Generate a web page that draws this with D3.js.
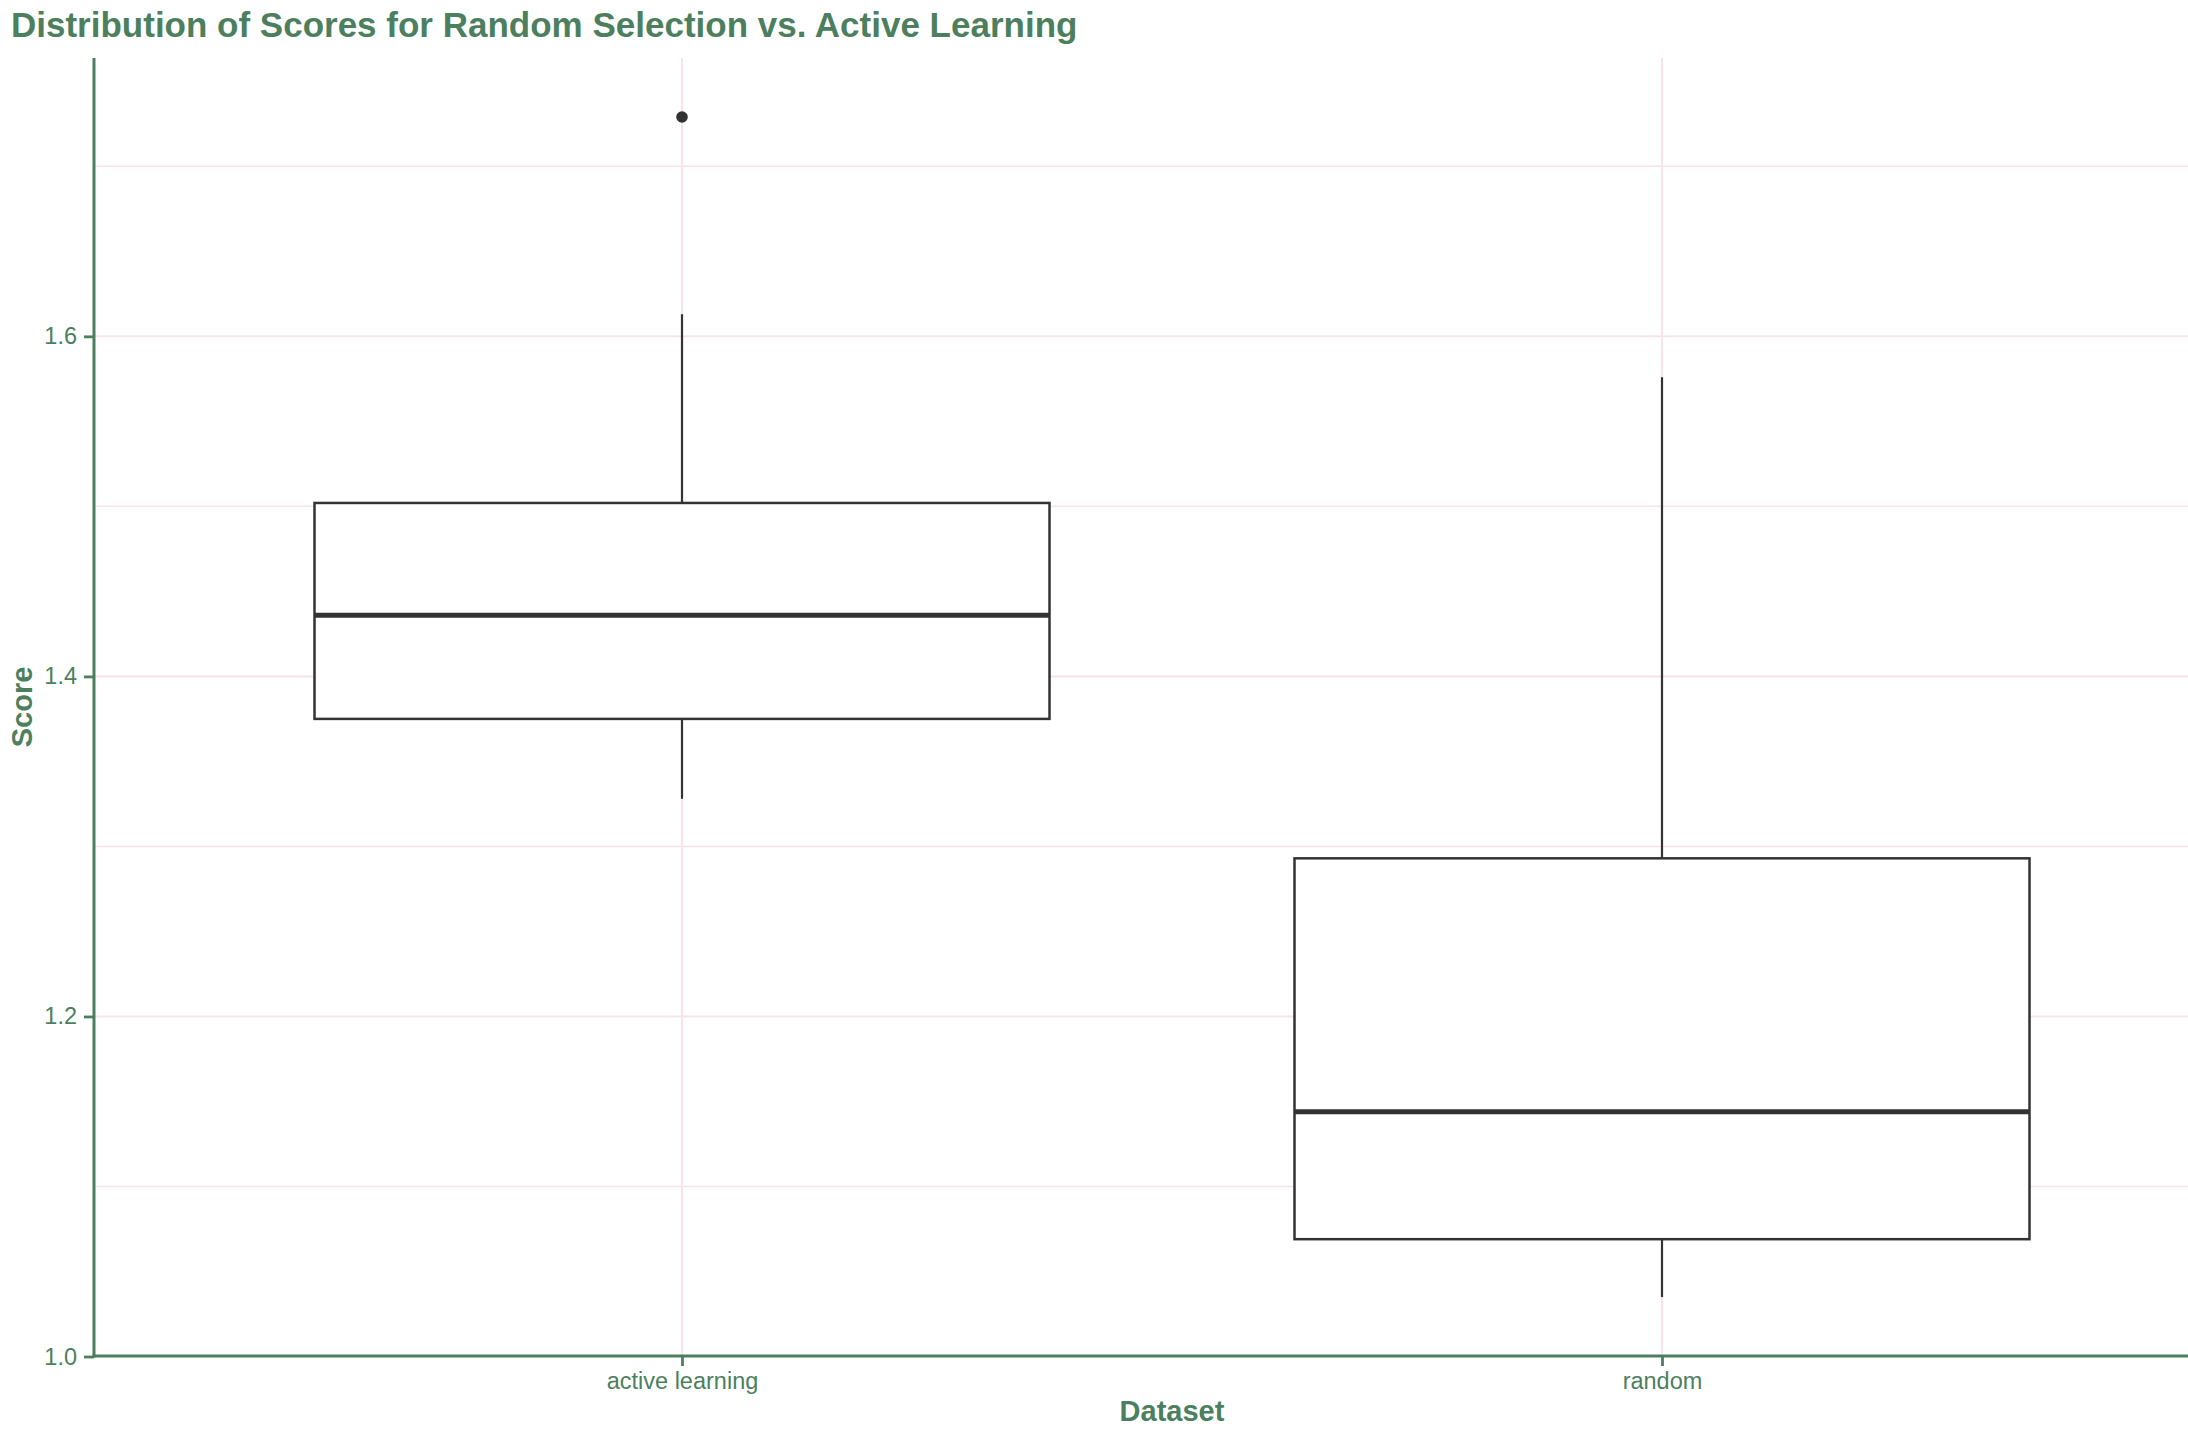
<!DOCTYPE html>
<html>
<head>
<meta charset="utf-8">
<script src="https://cdn.jsdelivr.net/npm/d3@7"></script>
<style>
  html, body { margin: 0; padding: 0; background: #ffffff; }
  svg { display: block; }
  text { font-family: "Liberation Sans", Arial, Helvetica, sans-serif; }
</style>
</head>
<body>
<script>
// ---- data ----
const categories   = ["active learning", "random"];
const whiskerLow   = [1.328, 1.035];
const q1           = [1.375, 1.069];
const median       = [1.436, 1.144];
const q3           = [1.502, 1.293];
const whiskerHigh  = [1.613, 1.576];
const outliers     = [[1.729], []];
const yMajorTicks  = [1.0, 1.2, 1.4, 1.6];
const yMinorTicks  = [1.1, 1.3, 1.5, 1.7];
const titleText    = "Distribution of Scores for Random Selection vs. Active Learning";
const xTitle       = "Dataset";
const yTitle       = "Score";

// ---- layout ----
const W = 2188, H = 1430;
const mLeft = 94, mTop = 58, mBottom = 1356, mRight = 2250;
const green = "#4c7f5d";
const grid = "#f8e3ec";
const ink = "#333333";

const svg = d3.select("body").append("svg")
  .attr("width", W).attr("height", H);

// y domain: data range with 5% expansion
const allVals = whiskerLow.concat(whiskerHigh, outliers.flat());
const lo = d3.min(allVals), hi = d3.max(allVals), span = hi - lo;
const y = d3.scaleLinear().domain([lo - 0.05 * span, hi + 0.05 * span]).range([mBottom, mTop]);
const x = d3.scalePoint().domain(categories).range([mLeft, mRight]).padding(0.6);
const boxW = x.step() * 0.75;

// gridlines
const g = svg.append("g");
g.selectAll("line.minor").data(yMinorTicks).join("line")
  .attr("x1", mLeft).attr("x2", mRight)
  .attr("y1", d => y(d)).attr("y2", d => y(d))
  .attr("stroke", grid).attr("stroke-width", 1.5);
g.selectAll("line.major").data(yMajorTicks.filter(d => d > y.domain()[0] + 1e-6)).join("line")
  .attr("x1", mLeft).attr("x2", mRight)
  .attr("y1", d => y(d)).attr("y2", d => y(d))
  .attr("stroke", grid).attr("stroke-width", 2);
g.selectAll("line.vmajor").data(categories).join("line")
  .attr("x1", d => x(d)).attr("x2", d => x(d))
  .attr("y1", mTop).attr("y2", mBottom)
  .attr("stroke", grid).attr("stroke-width", 2);

// boxes
const idx = d3.range(categories.length);
const bx = svg.append("g");
idx.forEach(i => {
  const cx = x(categories[i]);
  bx.append("line").attr("x1", cx).attr("x2", cx)
    .attr("y1", y(q3[i])).attr("y2", y(whiskerHigh[i]))
    .attr("stroke", ink).attr("stroke-width", 2.2);
  bx.append("line").attr("x1", cx).attr("x2", cx)
    .attr("y1", y(q1[i])).attr("y2", y(whiskerLow[i]))
    .attr("stroke", ink).attr("stroke-width", 2.2);
  bx.append("rect")
    .attr("x", cx - boxW / 2).attr("width", boxW)
    .attr("y", y(q3[i])).attr("height", y(q1[i]) - y(q3[i]))
    .attr("fill", "#ffffff").attr("stroke", ink).attr("stroke-width", 2.5);
  bx.append("line").attr("x1", cx - boxW / 2).attr("x2", cx + boxW / 2)
    .attr("y1", y(median[i])).attr("y2", y(median[i]))
    .attr("stroke", ink).attr("stroke-width", 5);
  bx.selectAll(null).data(outliers[i]).join("circle")
    .attr("cx", cx).attr("cy", d => y(d)).attr("r", 5.8)
    .attr("fill", ink);
});

// axes
const yAxis = svg.append("g").attr("transform", `translate(${mLeft},0)`)
  .call(d3.axisLeft(y).tickValues(yMajorTicks).tickFormat(d3.format(".1f")).tickSize(10).tickPadding(7));
const xAxis = svg.append("g").attr("transform", `translate(0,${mBottom})`)
  .call(d3.axisBottom(x).tickSize(10).tickPadding(6));
[yAxis, xAxis].forEach(a => {
  a.select(".domain").remove();
  a.selectAll(".tick line").attr("stroke", green).attr("stroke-width", 2.8);
  a.selectAll(".tick text").attr("fill", green).attr("font-size", 23.5)
    .attr("font-family", "'Liberation Sans', Arial, sans-serif");
});
svg.append("line").attr("x1", mLeft).attr("x2", mLeft).attr("y1", mTop).attr("y2", mBottom + 1.5)
  .attr("stroke", green).attr("stroke-width", 3);
svg.append("line").attr("x1", mLeft - 1.5).attr("x2", mRight).attr("y1", mBottom).attr("y2", mBottom)
  .attr("stroke", green).attr("stroke-width", 3);

// titles
svg.append("text").attr("x", 11).attr("y", 37)
  .attr("font-size", 35).attr("font-weight", "bold").attr("fill", green)
  .text(titleText);
svg.append("text").attr("x", (mLeft + mRight) / 2).attr("y", 1421)
  .attr("text-anchor", "middle").attr("font-size", 29).attr("font-weight", "bold").attr("fill", green)
  .text(xTitle);
svg.append("text").attr("transform", `translate(32,${(mTop + mBottom) / 2}) rotate(-90)`)
  .attr("text-anchor", "middle").attr("font-size", 29).attr("font-weight", "bold").attr("fill", green)
  .text(yTitle);
</script>
</body>
</html>
